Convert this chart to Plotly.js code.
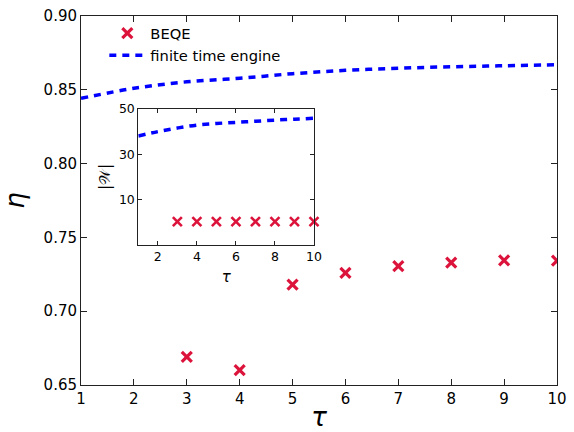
<!DOCTYPE html>
<html>
<head>
<meta charset="utf-8">
<script src="https://cdn.plot.ly/plotly-3.0.1.min.js"></script>
<style>html,body{margin:0;padding:0;background:#fff;}#chart{width:574px;height:432px;}</style>
</head>
<body>
<div id="chart"></div>
<script>
// main panel data
const tauLine = [1, 2, 3, 4, 5, 6, 7, 8, 9, 10];
const etaFinite = [0.8442, 0.8510, 0.8554, 0.8578, 0.8609, 0.8632, 0.8646, 0.8656, 0.8663, 0.8670];
const tauBEQE = [3, 4, 5, 6, 7, 8, 9, 10];
const etaBEQE = [0.669, 0.660, 0.718, 0.726, 0.7306, 0.7329, 0.7345, 0.7342];
// inset data
const workFinite = [38.1, 40.0, 41.6, 42.9, 43.6, 44.1, 44.6, 45.1, 45.5, 45.9];
const workBEQE = [0.3, 0.3, 0.3, 0.3, 0.3, 0.3, 0.3, 0.3];
const xTicks = [1, 2, 3, 4, 5, 6, 7, 8, 9, 10];
const yTicks = [0.65, 0.70, 0.75, 0.80, 0.85, 0.90];
const xTicksInset = [2, 4, 6, 8, 10];
const yTicksInset = [10, 30, 50];

const red = '#DC143C';
const blue = '#0000FF';
const font = 'DejaVu Sans, sans-serif';

const traces = [
  {x: tauBEQE, y: etaBEQE, mode: 'markers', name: 'BEQE',
   marker: {symbol: 'x-thin', size: 10, color: red, line: {color: red, width: 3.2}},
   xaxis: 'x', yaxis: 'y'},
  {x: tauLine, y: etaFinite, mode: 'lines', name: 'finite time engine',
   line: {color: blue, width: 3.5, dash: '7px,6px', shape: 'spline'},
   xaxis: 'x', yaxis: 'y'},
  {x: tauBEQE, y: workBEQE, mode: 'markers', showlegend: false,
   marker: {symbol: 'x-thin', size: 9, color: red, line: {color: red, width: 2.6}},
   xaxis: 'x2', yaxis: 'y2', cliponaxis: false},
  {x: tauLine, y: workFinite, mode: 'lines', showlegend: false,
   line: {color: blue, width: 3.5, dash: '7px,6px', shape: 'spline'},
   xaxis: 'x2', yaxis: 'y2'}
];

const axBase = {showline: true, linecolor: '#222', linewidth: 1, mirror: 'ticks',
  ticks: 'inside', tickcolor: '#222', showgrid: false, zeroline: false};

const layout = {
  width: 574, height: 432,
  margin: {l: 81, r: 17, t: 16, b: 47},
  paper_bgcolor: '#fff', plot_bgcolor: '#fff',
  font: {family: font, color: '#000', size: 15},
  showlegend: true,
  legend: {x: 0.049, y: 0.997, xanchor: 'left', yanchor: 'top', bgcolor: 'rgba(255,255,255,0)',
    font: {family: font, size: 14.7}, tracegroupgap: 0, itemwidth: 36},
  xaxis: Object.assign({}, axBase, {range: [1, 10], tickvals: xTicks, ticklen: 6,
    domain: [0, 1], anchor: 'y',
    title: {text: '<i>τ</i>', font: {family: font, size: 26}, standoff: 6}}),
  yaxis: Object.assign({}, axBase, {range: [0.65, 0.90], tickvals: yTicks, tickformat: '.2f', ticklen: 6,
    domain: [0, 1], anchor: 'x',
    title: {text: '<i>η</i>', font: {family: font, size: 26}, standoff: 12}}),
  xaxis2: Object.assign({}, axBase, {range: [1, 10], tickvals: xTicksInset, ticklen: 4,
    domain: [0.1204, 0.4895], anchor: 'y2', tickfont: {size: 12.5},
    title: {text: '<i>τ</i>', font: {family: font, size: 15}, standoff: 8}}),
  yaxis2: Object.assign({}, axBase, {range: [-10, 50], tickvals: yTicksInset, ticklen: 4,
    domain: [0.3794, 0.748], anchor: 'x2', tickfont: {size: 12.5},
    title: {text: '|𝒲|', font: {family: font, size: 15}, standoff: 4}}),
  shapes: [{type: 'rect', xref: 'paper', yref: 'paper', x0: 0.1204, x1: 0.4895, y0: 0.3794, y1: 0.748,
    fillcolor: '#fff', line: {width: 0}, layer: 'below'}]
};

Plotly.newPlot('chart', traces, layout, {displayModeBar: false, staticPlot: true});
</script>
</body>
</html>
